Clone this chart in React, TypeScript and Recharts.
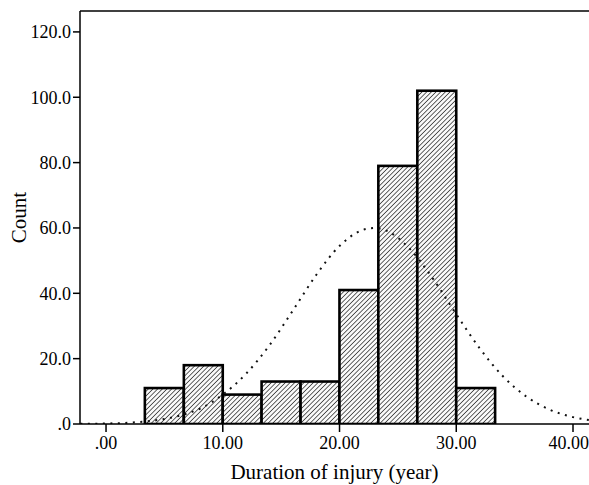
import { Bar, ComposedChart, Label, Line, ReferenceLine, XAxis, YAxis } from "recharts";

// histogram bins (lower edge, width ~3.33 years) and their counts
const binStarts = [3.33, 6.67, 10.0, 13.33, 16.67, 20.0, 23.33, 26.67, 30.0, 33.33];
const binCounts = [11, 18, 9, 13, 13, 41, 79, 102, 11, 0];
const BIN_W = 3.333;

// fitted normal curve
const curveX = [-2.2, 0, 2, 4, 6, 8, 10, 12, 14, 16, 18, 20, 22, 23, 24, 26, 28, 30, 32, 34, 36, 38, 40, 41.4];
const curveY = [0.05, 0.15, 0.4, 1.0, 2.3, 4.6, 9, 15.4, 24.1, 34.7, 45.6, 54.5, 59.4, 60, 59.2, 53.7, 44.5, 33.6, 23.2, 14.6, 8.4, 4.4, 2.1, 1.2];

const xTicks = [0, 10, 20, 30, 40];
const yTicks = [0, 20, 40, 60, 80, 100, 120];

const X_DOMAIN: [number, number] = [-2.23, 41.37];
const Y_DOMAIN: [number, number] = [0, 126.4];

const W = 589;
const H = 485;
const MARGIN = { top: 11, right: 0, left: 0, bottom: 0 };
const Y_AXIS_W = 80;
const PLOT_W = W - Y_AXIS_W - MARGIN.left - MARGIN.right;
const PX_PER_UNIT = PLOT_W / (X_DOMAIN[1] - X_DOMAIN[0]);

type Row = { x: number; count?: number; curve?: number };

const rows: Row[] = [
  ...binStarts.map((s, i) => ({ x: s + BIN_W / 2, count: binCounts[i] })),
  ...curveX.map((x, i) => ({ x, curve: curveY[i] })),
].sort((a, b) => a.x - b.x);

const FONT = "'Liberation Serif', 'Times New Roman', serif";

// bars on a numeric axis get a band width from the data spacing, so redraw
// each one at the true bin width around its centre
function HistBar(props: any) {
  const { x, y, width, height, payload } = props;
  if (payload?.count == null) return <g />;
  const cx = x + width / 2;
  const w = BIN_W * PX_PER_UNIT;
  return (
    <rect
      x={cx - w / 2}
      y={y}
      width={w}
      height={Math.max(height, 0)}
      fill="url(#hatch)"
      stroke="#000"
      strokeWidth={2.6}
    />
  );
}

const fmtY = (v: number) => (v === 0 ? ".0" : v.toFixed(1));
const fmtX = (v: number) => (v === 0 ? ".00" : v.toFixed(2));

export default function App() {
  return (
    <div style={{ position: "absolute", left: 0, top: 0, background: "#fff" }}>
      <ComposedChart width={W} height={H} data={rows} margin={MARGIN}>
        <defs>
          <pattern id="hatch" width="3.3" height="3.3" patternUnits="userSpaceOnUse" patternTransform="rotate(45)">
            <rect width="3.3" height="3.3" fill="#fafafa" />
            <line x1="0" y1="0" x2="0" y2="3.3" stroke="#111" strokeWidth={1.3} />
          </pattern>
        </defs>
        <XAxis
          dataKey="x"
          type="number"
          domain={X_DOMAIN}
          ticks={xTicks}
          tickFormatter={fmtX}
          allowDataOverflow
          height={H - 424}
          tickSize={8}
          tickMargin={4}
          axisLine={{ stroke: "#000", strokeWidth: 1.5 }}
          tickLine={{ stroke: "#000", strokeWidth: 1.5 }}
          tick={{ fill: "#000", fontSize: 18, fontFamily: FONT }}
        >
          <Label
            value="Duration of injury (year)"
            position="insideBottom"
            offset={6}
            style={{ fill: "#000", fontSize: 21, fontFamily: FONT }}
          />
        </XAxis>
        <YAxis
          type="number"
          domain={Y_DOMAIN}
          ticks={yTicks}
          tickFormatter={fmtY}
          allowDataOverflow
          width={Y_AXIS_W}
          tickSize={7}
          tickMargin={2}
          axisLine={{ stroke: "#000", strokeWidth: 1.5 }}
          tickLine={{ stroke: "#000", strokeWidth: 1.5 }}
          tick={{ fill: "#000", fontSize: 18, fontFamily: FONT }}
        >
          <Label
            value="Count"
            angle={-90}
            position="insideLeft"
            offset={19}
            style={{ fill: "#000", fontSize: 21, fontFamily: FONT, textAnchor: "middle" }}
          />
        </YAxis>
        <ReferenceLine y={Y_DOMAIN[1]} stroke="#000" strokeWidth={1.5} />
        <Bar dataKey="count" shape={HistBar} isAnimationActive={false} />
        <Line
          dataKey="curve"
          type="monotone"
          connectNulls
          dot={false}
          stroke="#111"
          strokeWidth={2}
          strokeDasharray="2 5.5"
          isAnimationActive={false}
        />
      </ComposedChart>
    </div>
  );
}
